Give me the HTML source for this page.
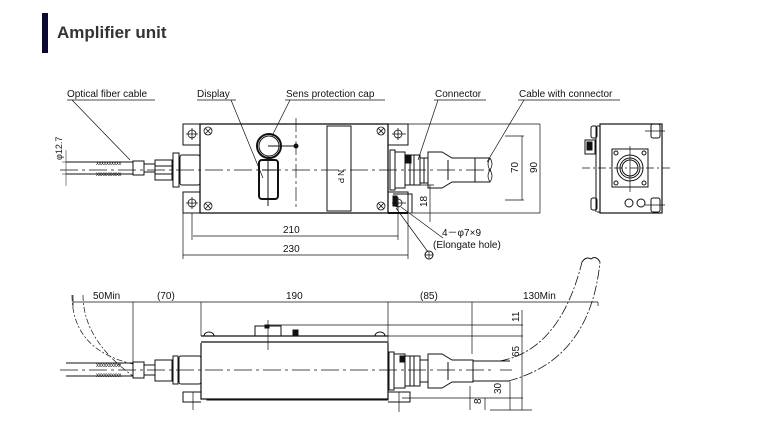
<!DOCTYPE html>
<html><head><meta charset="utf-8"><style>
html,body{margin:0;padding:0;background:#fff;}
svg{display:block;}
text{font-family:"Liberation Sans",Arial,sans-serif;fill:#111;}
</style></head><body>
<svg width="761" height="448" viewBox="0 0 761 448" xmlns="http://www.w3.org/2000/svg">
<rect x="42" y="13" width="6" height="40" fill="#0a0a30"/>
<text x="57" y="38" font-size="17" font-weight="bold" fill="#333" style="fill:#333">Amplifier unit</text>

<g fill="none" stroke="#111" stroke-width="1">
<rect x="200" y="124" width="188" height="89" stroke-width="1.3"/>
<path d="M200 124 H183 V145 H200 M200 192 H183 V213 H200"/>
<path d="M388 124 H408 V145 H388 M388 192 H408 V213 H388"/>
<path d="M408 124 H540 M408 213 H540" stroke-width="0.7"/>
<line x1="388" y1="213" x2="408" y2="213" stroke-width="2"/>
<g stroke-width="0.8">
<circle cx="192" cy="134" r="4"/><path d="M186 134h12M192 128v12"/>
<circle cx="192" cy="203" r="4"/><path d="M186 203h12M192 197v12"/>
<circle cx="398" cy="134" r="4"/><path d="M392 134h14M398 128v12"/>
<circle cx="398" cy="203" r="4"/><path d="M392 203h14M398 197v14"/>
</g>
<g stroke-width="0.8">
<circle cx="208" cy="131" r="4"/><path d="M205 128l6 6M211 128l-6 6"/>
<circle cx="208" cy="206" r="4"/><path d="M205 203l6 6M211 203l-6 6"/>
<circle cx="381" cy="131" r="4"/><path d="M378 128l6 6M384 128l-6 6"/>
<circle cx="381" cy="206" r="4"/><path d="M378 203l6 6M384 203l-6 6"/>
</g>
<circle cx="269" cy="146" r="12" stroke-width="2"/>
<circle cx="269" cy="146" r="10"/>
<path d="M268 146H295"/><circle cx="296" cy="146" r="2" fill="#111"/>
<rect x="259" y="160" width="19" height="39" rx="3" stroke-width="2"/>
<path d="M268 156V206M262 170H276"/>
<path d="M296 118V210" stroke-dasharray="14,3,3,3" stroke-width="0.7"/>
<rect x="327" y="126" width="24" height="85"/>
<text x="338" y="170" font-size="8" stroke="none" transform="rotate(90 338 170)">N  P</text>
<path d="M60 170H495" stroke-dasharray="18,4,3,4" stroke-width="0.7"/>
<path d="M66 162H133M66 174H133" />
<text x="96" y="165" font-size="6" stroke="none" letter-spacing="-0.5">xxxxxxxxxx</text>
<text x="96" y="176" font-size="6" stroke="none" letter-spacing="-0.5">xxxxxxxxxx</text>
<rect x="133" y="161" width="11" height="14"/>
<path d="M144 164H155M144 172H155"/>
<path d="M155 160H172V180H155Z M155 166H172M155 174H172"/>
<rect x="173" y="153" width="6" height="34"/>
<rect x="180" y="155" width="20" height="30" rx="2"/>
<rect x="390" y="150" width="5" height="40"/>
<path d="M395 152H405V188H395M405 155H420V185H405M410 155V185M414 155V185"/>
<rect x="406" y="156" width="5" height="7" fill="#111"/>
<path d="M420 158H428V183H420M424 158V183"/>
<path d="M428 152H442L452 158H475V182H452L442 188H428Z"/>
<path d="M475 158H490M475 182H490"/>
<path d="M490 158q-4 6 0 12q4 6 0 12M490 158q4 6 0 12q-4 6 0 12" stroke-width="0.7"/>
<path d="M448 160V180"/>
<path d="M393 194H412V213"/><rect x="393" y="196" width="4" height="10" fill="#111"/>
<g stroke-width="0.7">
<path d="M192 213V240M398 213V240M183 213V259M408 213V259"/>
<path d="M193 236H398M183 255H408"/>
<path d="M522 136V200M540 124V213M505 136H524M505 200H524"/>
<path d="M430 185V222M420 185H434"/>
<path d="M66 150V186M62 162H66M62 174H66" stroke-width="0.5"/>
</g>
<g stroke-width="0.7">
<path d="M67 100H155M72 100L130 160"/>
<path d="M197 100H236M231 100L263 178"/>
<path d="M285 100H385M290 100L272 136"/>
<path d="M434 100H486M438 100L418 160"/>
<path d="M518 100H620M524 100L487 162"/>
<path d="M401 207L443 238M396 208L428 252"/>
</g>
<circle cx="429" cy="255" r="4"/><path d="M425 255H433M429 252V258" stroke-width="0.7"/>
<rect x="600" y="124" width="62" height="89" stroke-width="1.2"/>
<path d="M596 126V212M597 126H600M597 212H600"/>
<rect x="591" y="126" width="6" height="12" rx="2"/><rect x="591" y="198" width="6" height="12" rx="2"/>
<rect x="585" y="140" width="10" height="14"/><rect x="587" y="142" width="5" height="8" fill="#111"/>
<rect x="651" y="124" width="9" height="14" rx="2"/><rect x="651" y="198" width="9" height="14" rx="2"/>
<rect x="612" y="149" width="36" height="38"/>
<circle cx="630" cy="168" r="13"/><circle cx="630" cy="168" r="10"/><circle cx="630" cy="168" r="8"/>
<circle cx="616" cy="153" r="2"/><circle cx="644" cy="153" r="2"/><circle cx="616" cy="183" r="2"/><circle cx="644" cy="183" r="2"/>
<circle cx="629" cy="203" r="4"/><circle cx="641" cy="203" r="4"/>
<path d="M582 168H672" stroke-dasharray="8,3,2,3" stroke-width="0.7"/>
<path d="M630 146V192M645 131H665M645 205H665" stroke-width="0.7"/>

<path d="M201 336H388M201 342H388M201 343V399H388V343" stroke-width="1.2"/>
<path d="M201 392H183V402H201M207 399V400H388V399" />
<path d="M388 392H410V402H388"/>
<rect x="255" y="326" width="26" height="10"/><rect x="265" y="325" width="4" height="3" fill="#111"/>
<rect x="293" y="330" width="5" height="5" fill="#111"/>
<path d="M204 336a5 4 0 0 1 10 0M375 336a5 4 0 0 1 10 0"/>
<path d="M268 325H523M388 336H523M402 398H523" stroke-width="0.7"/>
<path d="M268 320V350M193 392V410M399 392V412" stroke-width="0.7"/>
<path d="M60 370H495" stroke-dasharray="18,4,3,4" stroke-width="0.7"/>
<path d="M66 363H133M66 376H133"/>
<text x="96" y="367" font-size="6" stroke="none" letter-spacing="-0.5">xxxxxxxxxx</text>
<text x="96" y="377" font-size="6" stroke="none" letter-spacing="-0.5">xxxxxxxxxx</text>
<rect x="133" y="362" width="11" height="16"/>
<path d="M144 365H155M144 375H155M155 360H172V381H155Z"/>
<rect x="173" y="356" width="5" height="28"/><rect x="179" y="356" width="22" height="28" rx="2"/>
<path d="M72 295Q72 350 133 364M83 295Q83 340 133 376" stroke-dasharray="6,2,2,2" stroke-width="0.7"/>
<rect x="389" y="352" width="5" height="38"/>
<path d="M394 354H405V388H394M405 356H420V386H405M410 356V386M414 356V386M420 360H428V382H420"/>
<rect x="400" y="356" width="5" height="6" fill="#111"/>
<path d="M428 354H442L452 360H473V382H452L442 388H428Z M448 362V380"/>
<path d="M473 361H510M473 381H510" />
<path d="M500 361Q560 350 582 262M508 381Q590 360 600 262" stroke-dasharray="10,2,2,2" stroke-width="0.8"/>
<path d="M582 262q4-6 9-3q5-4 9 3"/>
<g stroke-width="0.7">
<path d="M73 302H598M73 295V307M133 302V362M201 302V336M388 302V352M472 302V354M598 302V306"/>
<path d="M522 310V410M500 370H512M510 382V410M470 386V410M490 410H532M485 398V410"/>
</g>
</g>
<g font-size="10">
<text x="67" y="97">Optical fiber cable</text>
<text x="197" y="97">Display</text>
<text x="286" y="97">Sens protection cap</text>
<text x="435" y="97">Connector</text>
<text x="519" y="97">Cable with connector</text>
<text x="283" y="233">210</text>
<text x="283" y="252">230</text>
<text x="442" y="236">4－φ7×9</text>
<text x="433" y="248">(Elongate hole)</text>
<text x="518" y="173" transform="rotate(-90 518 173)">70</text>
<text x="537" y="173" transform="rotate(-90 537 173)">90</text>
<text x="427" y="207" transform="rotate(-90 427 207)">18</text>
<text x="62" y="160" font-size="9" transform="rotate(-90 62 160)">φ12.7</text>
<text x="93" y="299">50Min</text>
<text x="157" y="299">(70)</text>
<text x="286" y="299">190</text>
<text x="420" y="299">(85)</text>
<text x="523" y="299">130Min</text>
<text x="519" y="322" transform="rotate(-90 519 322)">11</text>
<text x="519" y="357" transform="rotate(-90 519 357)">65</text>
<text x="501" y="394" transform="rotate(-90 501 394)">30</text>
<text x="481" y="404" transform="rotate(-90 481 404)">8</text>
</g>
</svg>
</body></html>
